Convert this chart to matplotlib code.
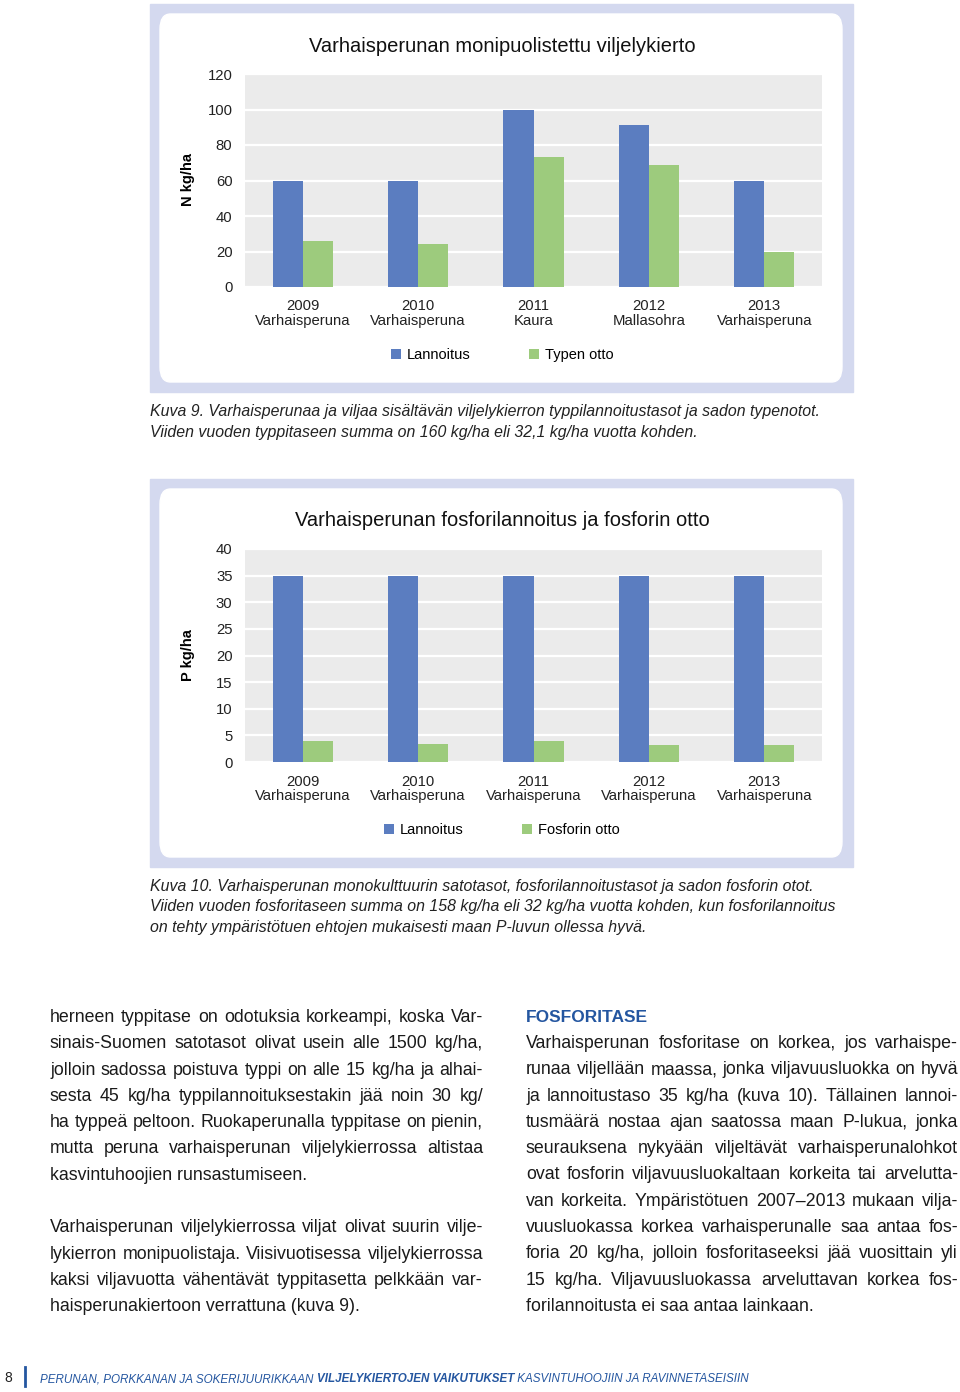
import matplotlib
matplotlib.use('Agg')
import matplotlib.pyplot as plt
import numpy as np
from matplotlib.patches import Rectangle, FancyBboxPatch

W, H = 960, 1392

# data
years = ['2009', '2010', '2011', '2012', '2013']
crops_n = ['Varhaisperuna', 'Varhaisperuna', 'Kaura', 'Mallasohra', 'Varhaisperuna']
n_lannoitus = [60, 60, 100, 91, 60]
n_otto = [26, 24, 73, 69, 20]

crops_p = ['Varhaisperuna'] * 5
p_lannoitus = [35, 35, 35, 35, 35]
p_otto = [4.0, 3.4, 4.0, 3.1, 3.1]

BLUE = '#5B7DC0'
GREEN = '#9DCB7D'
LAVENDER = '#D4D9EF'
PLOTBG = '#EBEBEB'
TEXTBLUE = '#2456A0'

CHART_FONT = ['Liberation Sans', 'DejaVu Sans']
BODY_FONT = ['Liberation Sans', 'DejaVu Sans']

fig = plt.figure(figsize=(W / 100, H / 100), dpi=100)
fig.patch.set_facecolor('white')
renderer = fig.canvas.get_renderer()


def fx(x):
    return x / W


def fy(y):
    return 1 - y / H


def chart(top, title, ylabel, vals1, vals2, crops, ymax, step, leg2):
    # frame boxes
    fig.patches.append(Rectangle((fx(150), fy(top + 392)), fx(703), 388 / H,
                                 transform=fig.transFigure, color=LAVENDER, zorder=0))
    fig.patches.append(FancyBboxPatch((fx(160), fy(top + 382)), fx(682), 368 / H,
                                      boxstyle='round,pad=0,rounding_size=0.011',
                                      transform=fig.transFigure, color='white',
                                      zorder=0.5))
    ax = fig.add_axes([fx(245), fy(top + 287), fx(577), 213 / H])
    ax.set_zorder(2)
    ax.set_facecolor(PLOTBG)
    x = np.arange(len(years))
    bw = 0.26
    b1 = ax.bar(x - bw / 2, vals1, bw, color=BLUE, label='Lannoitus', zorder=3)
    b2 = ax.bar(x + bw / 2, vals2, bw, color=GREEN, label=leg2, zorder=3)
    ax.set_xlim(-0.5, len(years) - 0.5)
    ax.set_ylim(0, ymax)
    ax.set_yticks(np.arange(0, ymax + 1, step))
    ax.yaxis.grid(True, color='white', linewidth=1.6, zorder=1)
    ax.set_axisbelow(True)
    for s in ax.spines.values():
        s.set_visible(False)
    ax.tick_params(length=0, labelsize=10.7, pad=9)
    ax.set_xticks(x)
    ax.set_xticklabels([f'{y}\n{c}' for y, c in zip(years, crops)],
                       family=CHART_FONT, linespacing=1.08, color='#222222')
    for lab in ax.get_yticklabels():
        lab.set_family(CHART_FONT)
        lab.set_color('#222222')
    fig.text(fx(502), fy(top + 46), title, ha='center', va='center',
             fontsize=14.5, family=CHART_FONT, color='#111111')
    fig.text(fx(188), fy(top + 180), ylabel, ha='center', va='center',
             rotation=90, fontsize=10.5, fontweight='bold', family=BODY_FONT)
    fig.legend([b1, b2], ['Lannoitus', leg2], loc='center', ncol=2,
               bbox_to_anchor=(fx(502), fy(top + 355)), frameon=False,
               handlelength=0.7, handleheight=0.7, handletextpad=0.4,
               columnspacing=4.0, prop={'family': CHART_FONT, 'size': 10.5})
    return ax


chart(0, 'Varhaisperunan monipuolistettu viljelykierto', 'N kg/ha',
      n_lannoitus, n_otto, crops_n, 120, 20, 'Typen otto')
chart(475, 'Varhaisperunan fosforilannoitus ja fosforin otto', 'P kg/ha',
      p_lannoitus, p_otto, crops_p, 40, 5, 'Fosforin otto')

# captions
cap1 = ['Kuva 9. Varhaisperunaa ja viljaa sisältävän viljelykierron typpilannoitustasot ja sadon typenotot.',
        'Viiden vuoden typpitaseen summa on 160 kg/ha eli 32,1 kg/ha vuotta kohden.']
cap2 = ['Kuva 10. Varhaisperunan monokulttuurin satotasot, fosforilannoitustasot ja sadon fosforin otot.',
        'Viiden vuoden fosforitaseen summa on 158 kg/ha eli 32 kg/ha vuotta kohden, kun fosforilannoitus',
        'on tehty ympäristötuen ehtojen mukaisesti maan P-luvun ollessa hyvä.']
for i, line in enumerate(cap1):
    fig.text(fx(150), fy(416 + 21 * i), line, ha='left', va='baseline',
             fontsize=11.4, style='italic', family=CHART_FONT, color='#222222')
for i, line in enumerate(cap2):
    fig.text(fx(150), fy(891 + 20.5 * i), line, ha='left', va='baseline',
             fontsize=11.4, style='italic', family=CHART_FONT, color='#222222')


def put_line(x, y, text, width, justify, **kw):
    words = text.split(' ')
    if not justify or len(words) < 2:
        fig.text(fx(x), fy(y), text, ha='left', va='baseline', **kw)
        return
    arts = [fig.text(0, 0, w, ha='left', va='baseline', **kw) for w in words]
    widths = [a.get_window_extent(renderer).width for a in arts]
    gap = max(3.0, (width - sum(widths)) / (len(words) - 1))
    cx = x
    for a, w in zip(arts, widths):
        a.set_position((fx(cx), fy(y)))
        cx += w + gap


left_col = [
    ['herneen typpitase on odotuksia korkeampi, koska Var-',
     'sinais-Suomen satotasot olivat usein alle 1500 kg/ha,',
     'jolloin sadossa poistuva typpi on alle 15 kg/ha ja alhai-',
     'sesta 45 kg/ha typpilannoituksestakin jää noin 30 kg/',
     'ha typpeä peltoon. Ruokaperunalla typpitase on pienin,',
     'mutta peruna varhaisperunan viljelykierrossa altistaa',
     'kasvintuhoojien runsastumiseen.'],
    ['Varhaisperunan viljelykierrossa viljat olivat suurin vilje-',
     'lykierron monipuolistaja. Viisivuotisessa viljelykierrossa',
     'kaksi viljavuotta vähentävät typpitasetta pelkkään var-',
     'haisperunakiertoon verrattuna (kuva 9).'],
]
right_col = [
    'Varhaisperunan fosforitase on korkea, jos varhaispe-',
    'runaa viljellään maassa, jonka viljavuusluokka on hyvä',
    'ja lannoitustaso 35 kg/ha (kuva 10). Tällainen lannoi-',
    'tusmäärä nostaa ajan saatossa maan P-lukua, jonka',
    'seurauksena nykyään viljeltävät varhaisperunalohkot',
    'ovat fosforin viljavuusluokaltaan korkeita tai arvelutta-',
    'van korkeita. Ympäristötuen 2007–2013 mukaan vilja-',
    'vuusluokassa korkea varhaisperunalle saa antaa fos-',
    'foria 20 kg/ha, jolloin fosforitaseeksi jää vuosittain yli',
    '15 kg/ha. Viljavuusluokassa arveluttavan korkea fos-',
    'forilannoitusta ei saa antaa lainkaan.',
]

LS = 26.3
body_kw = dict(fontsize=12.8, family=BODY_FONT, color='#1a1a1a')
y = 1022
for para in left_col:
    for i, line in enumerate(para):
        put_line(50, y, line, 433, i < len(para) - 1, **body_kw)
        y += LS
    y += LS

fig.text(fx(526), fy(1022), 'FOSFORITASE', ha='left', va='baseline',
         fontsize=12.5, fontweight='bold', family=BODY_FONT, color=TEXTBLUE)
y = 1048
for i, line in enumerate(right_col):
    put_line(526, y, line, 432, i < len(right_col) - 1, **body_kw)
    y += LS

# footer
fig.text(fx(4), fy(1382), '8', ha='left', va='baseline', fontsize=10,
         family=BODY_FONT, color='#222222')
fig.lines.append(plt.Line2D([fx(25), fx(25)], [fy(1367), fy(1386)],
                            transform=fig.transFigure, color=TEXTBLUE, linewidth=2))
segments = [('PERUNAN, PORKKANAN JA SOKERIJUURIKKAAN ', 'normal'),
            ('VILJELYKIERTOJEN VAIKUTUKSET', 'bold'),
            (' KASVINTUHOOJIIN JA RAVINNETASEISIIN', 'normal')]
cx = 40
for txt, wt in segments:
    t = fig.text(fx(cx), fy(1382), txt, ha='left', va='baseline', fontsize=8.4,
                 style='italic', fontweight=wt, family=CHART_FONT, color=TEXTBLUE)
    cx += t.get_window_extent(renderer).width

fig.savefig('out.png', dpi=100)
